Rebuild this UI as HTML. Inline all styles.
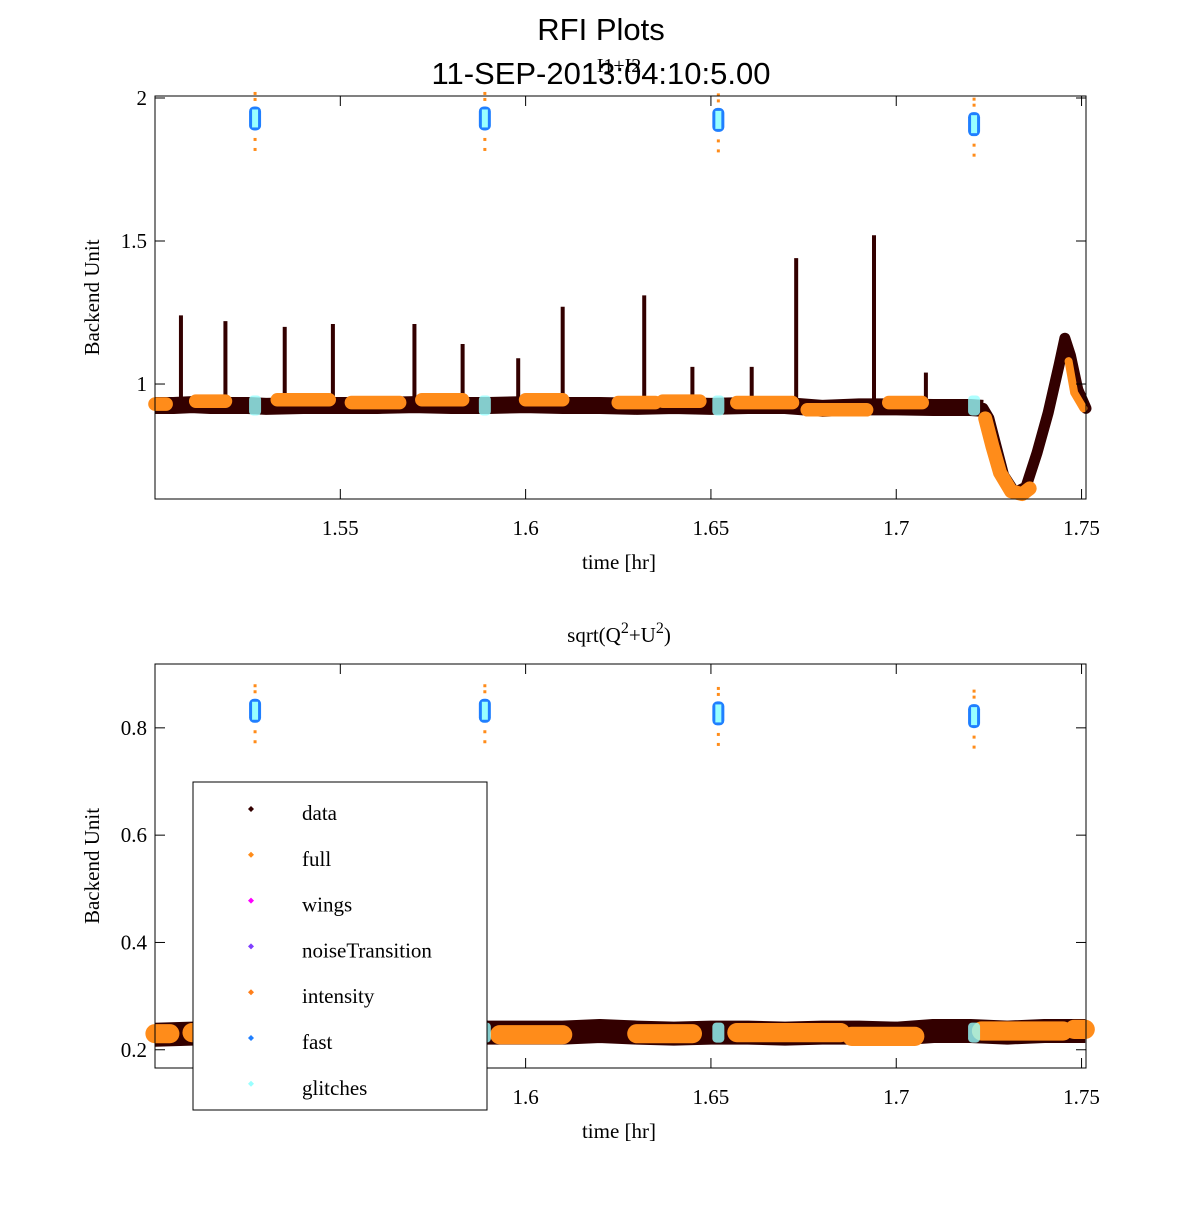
<!DOCTYPE html>
<html><head><meta charset="utf-8"><style>
body{margin:0;background:#fff;}
svg text{font-family:"Liberation Serif",serif;}
</style></head><body>
<svg id="chart" width="1200" height="1200" viewBox="0 0 1200 1200" xmlns="http://www.w3.org/2000/svg">
<rect width="1200" height="1200" fill="#fff"/>
<text x="601" y="40" font-size="31" text-anchor="middle" style="font-family:'Liberation Sans',sans-serif">RFI Plots</text>
<text x="601" y="84" font-size="31" text-anchor="middle" style="font-family:'Liberation Sans',sans-serif">11-SEP-2013:04:10:5.00</text>
<text x="619" y="72" font-size="20" text-anchor="middle">I1+I2</text>
<g id="topPanel"></g>
<g id="botPanel"></g>
<text x="619" y="642" font-size="21" text-anchor="middle">sqrt(Q<tspan dy="-9" font-size="16">2</tspan><tspan dy="9">+U</tspan><tspan dy="-9" font-size="16">2</tspan><tspan dy="9">)</tspan></text>
<g id="legend"></g>
</svg>
<script>
const xTicks=[1.55,1.6,1.65,1.7,1.75];
const topYTicks=[1,1.5,2];
const botYTicks=[0.2,0.4,0.6,0.8];
const topTimes=[1.500,1.505,1.510,1.515,1.520,1.525,1.530,1.540,1.550,1.560,1.570,1.580,1.590,1.600,1.610,1.620,1.630,1.640,1.650,1.660,1.670,1.680,1.690,1.700,1.710,1.720,1.7234];
const topValues=[0.925,0.925,0.928,0.925,0.925,0.925,0.922,0.925,0.925,0.925,0.928,0.925,0.925,0.928,0.925,0.925,0.922,0.925,0.922,0.925,0.925,0.915,0.920,0.920,0.918,0.918,0.915];
const dipTimes=[1.7234,1.725,1.727,1.729,1.732,1.735,1.738,1.741,1.744,1.7455,1.747,1.749,1.7512];
const dipValues=[0.915,0.88,0.78,0.68,0.62,0.64,0.76,0.90,1.07,1.16,1.10,0.98,0.915];
const spikeTimes=[1.507,1.519,1.535,1.548,1.570,1.583,1.598,1.610,1.632,1.645,1.661,1.673,1.694,1.708];
const spikeValues=[1.24,1.22,1.20,1.21,1.21,1.14,1.09,1.27,1.31,1.06,1.06,1.44,1.52,1.04];
const topFullStart=[1.500,1.511,1.533,1.553,1.572,1.600,1.625,1.637,1.657,1.676,1.698];
const topFullEnd=[1.503,1.519,1.547,1.566,1.583,1.610,1.635,1.647,1.672,1.692,1.707];
const topFullVal=[0.930,0.940,0.945,0.935,0.945,0.945,0.935,0.940,0.935,0.910,0.935];
const topDipTimes=[1.7240,1.726,1.728,1.731,1.734,1.736];
const topDipValues=[0.88,0.78,0.69,0.625,0.615,0.635];
const topTailTimes=[1.7465,1.748,1.7505];
const topTailValues=[1.08,0.97,0.915];
const calTimes=[1.527,1.589,1.652,1.721];
const topCalVal=[1.925,1.925,1.920,1.905];
const botCalVal=[0.830,0.830,0.825,0.820];
const botTimes=[1.500,1.510,1.520,1.530,1.540,1.550,1.560,1.570,1.580,1.590,1.600,1.610,1.620,1.630,1.640,1.650,1.660,1.670,1.680,1.690,1.700,1.710,1.720,1.730,1.740,1.751];
const botValues=[0.228,0.230,0.232,0.230,0.232,0.230,0.232,0.230,0.232,0.232,0.232,0.232,0.235,0.232,0.230,0.232,0.232,0.230,0.232,0.232,0.230,0.235,0.235,0.232,0.235,0.235];
const botFullStart=[1.500,1.510,1.593,1.630,1.657,1.688,1.723,1.748];
const botFullEnd=[1.504,1.518,1.610,1.645,1.685,1.705,1.745,1.751];
const botFullVal=[0.230,0.232,0.228,0.230,0.232,0.225,0.235,0.238];
const legendLabels=["data","full","wings","noiseTransition","intensity","fast","glitches"];
const legendColors=["#330000","#ff8c1a","#ff00ff","#7f3fff","#ff7f1a","#1f7fff","#99ffff"];

const NS="http://www.w3.org/2000/svg";
function mk(p,t,a){const e=document.createElementNS(NS,t);for(const k in a)e.setAttribute(k,a[k]);p.appendChild(e);return e;}
const X0=155,X1=1086,XMIN=1.5,XMAX=1.7512;
const xs=v=>X0+(v-XMIN)/(XMAX-XMIN)*(X1-X0);
function poly(g,ts,vs,ys,col,w){return mk(g,'polyline',{points:ts.map((t,i)=>xs(t)+','+ys(vs[i])).join(' '),fill:'none',stroke:col,'stroke-width':w,'stroke-linejoin':'round','stroke-linecap':'round'});}

function frame(g,y0,y1,ys,yt,bandW,times,vals,fs,fe,fv,calV,base,isTop){
  const c=mk(g,'polyline',{points:times.map((t,i)=>xs(t)+','+ys(vals[i])).join(' '),fill:'none',stroke:'#330000','stroke-width':bandW,'stroke-linejoin':'round'});
  
  
  if(isTop){
    const dd=poly(g,dipTimes,dipValues,ys,'#330000',11);
    
    
    spikeTimes.forEach((t,i)=>{const s=mk(g,'line',{x1:xs(t),x2:xs(t),y1:ys(0.93),y2:ys(spikeValues[i]),stroke:'#330000','stroke-width':4});
      
      });
    const d=poly(g,topDipTimes,topDipValues,ys,'#ff8c1a',14);
    
    
    const tl=poly(g,topTailTimes,topTailValues,ys,'#ff8c1a',8);
    
    
  }
  fs.forEach((s,i)=>{const e=mk(g,'line',{x1:xs(s),x2:xs(fe[i]),y1:ys(fv[i]),y2:ys(fv[i]),stroke:'#ff8c1a','stroke-width':bandW*0.8,'stroke-linecap':'round'});
    
    });
  calTimes.forEach((t,i)=>{
    const x=xs(t),y=ys(calV[i]);
    const r=mk(g,'rect',{x:x-6,y:y-13,width:12,height:24,rx:5,fill:'#1f7fff'});
    
    
    mk(g,'rect',{x:x-3,y:y-10,width:6,height:18,fill:'#99ffff'});
    mk(g,'rect',{x:x-6,y:ys(base)-10,width:12,height:20,rx:4,fill:'#99ffff',opacity:0.8});
    [-26,-20,20,30].forEach(o=>mk(g,'rect',{x:x-1.5,y:y+o-1.5,width:3,height:3,fill:'#ff8c1a'}));
  });
  const b=mk(g,'rect',{x:X0,y:y0,width:X1-X0,height:y1-y0,fill:'none',stroke:'#000','stroke-width':1});
  
  
  xTicks.forEach(v=>{const x=xs(v);
    mk(g,'line',{x1:x,x2:x,y1:y1,y2:y1-10,stroke:'#000'});
    mk(g,'line',{x1:x,x2:x,y1:y0,y2:y0+10,stroke:'#000'});
    const t=mk(g,'text',{x:x,y:y1+36,'font-size':21,'text-anchor':'middle'});t.textContent=String(v);
    
    });
  yt.forEach(v=>{const y=ys(v);
    mk(g,'line',{x1:X0,x2:X0+10,y1:y,y2:y,stroke:'#000'});
    mk(g,'line',{x1:X1,x2:X1-10,y1:y,y2:y,stroke:'#000'});
    const t=mk(g,'text',{x:X0-8,y:y+7,'font-size':21,'text-anchor':'end'});t.textContent=String(v);
    
    });
  const xl=mk(g,'text',{x:619,y:y1+70,'font-size':21,'text-anchor':'middle'});xl.textContent='time [hr]';
  
  
  const yl=mk(g,'text',{x:0,y:0,'font-size':21,'text-anchor':'middle',transform:`translate(99,${(y0+y1)/2}) rotate(-90)`});yl.textContent='Backend Unit';
  
  
}
const topG=document.getElementById('topPanel'),botG=document.getElementById('botPanel');
const ysT=v=>499-(v-0.598)/(2.007-0.598)*(499-96);
const ysB=v=>1068-(v-0.166)/(0.919-0.166)*(1068-664);
frame(topG,96,499,ysT,topYTicks,17,topTimes,topValues,topFullStart,topFullEnd,topFullVal,topCalVal,0.925,true);
frame(botG,664,1068,ysB,botYTicks,24,botTimes,botValues,botFullStart,botFullEnd,botFullVal,botCalVal,0.232,false);
const lg=document.getElementById('legend');
mk(lg,'rect',{x:193,y:782,width:294,height:328,fill:'#fff',stroke:'#000','stroke-width':1});
legendLabels.forEach((l,i)=>{const y=813+i*45.8;
  const it=mk(lg,'g',{});
  
  
  mk(it,'path',{d:`M${251},${y-7}l3,3l-3,3l-3,-3z`,fill:legendColors[i]});
  const t=mk(it,'text',{x:302,y:y+7,'font-size':21});t.textContent=l;});
</script>
</body></html>
